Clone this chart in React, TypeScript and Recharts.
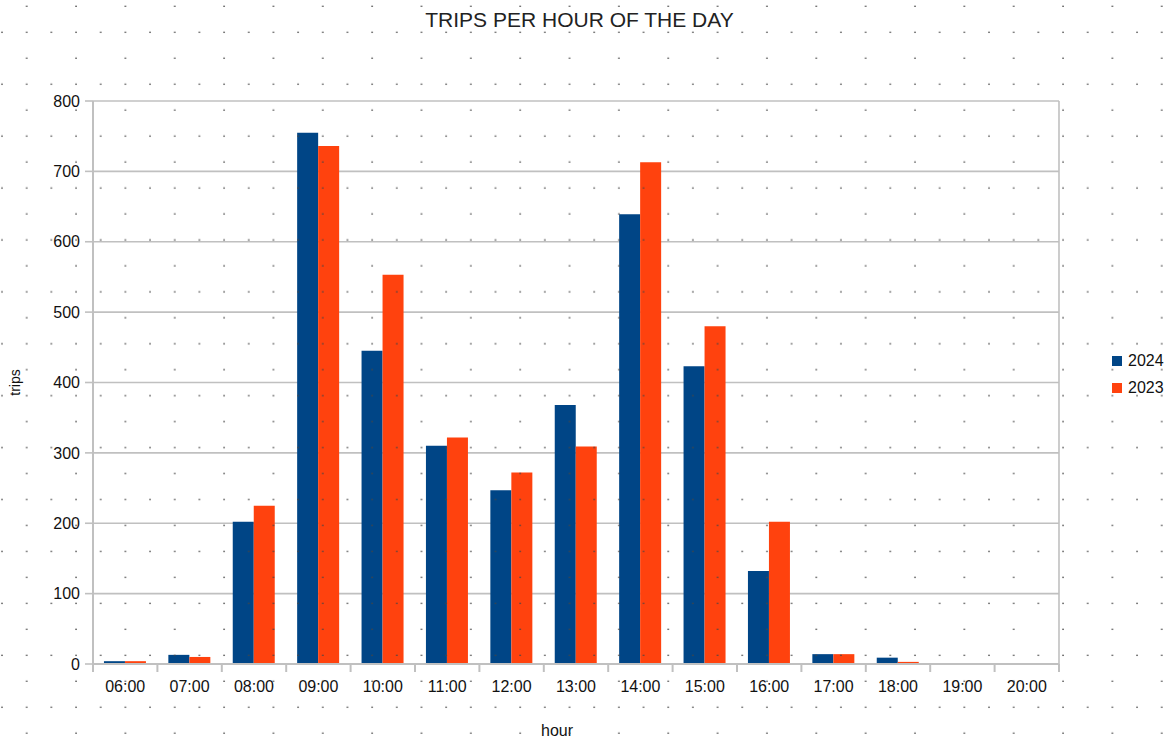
import { Bar, BarChart, CartesianGrid, Legend, XAxis, YAxis } from 'recharts';

const hours = ['06:00', '07:00', '08:00', '09:00', '10:00', '11:00', '12:00', '13:00', '14:00', '15:00', '16:00', '17:00', '18:00', '19:00', '20:00'];
const trips2024 = [4, 13, 202, 755, 445, 310, 247, 368, 639, 423, 132, 14, 9, 1, 0];
const trips2023 = [4, 10, 225, 736, 553, 322, 272, 309, 713, 480, 202, 14, 3, 1, 1];
const seriesNames = ['2024', '2023'];
const yTicks = [0, 100, 200, 300, 400, 500, 600, 700, 800];

const data = hours.map((hour, i) => ({ hour, y2024: trips2024[i], y2023: trips2023[i] }));

const W = 1175;
const H = 738;
const FONT = '"Liberation Sans", Arial, sans-serif';
const GRID = '#c0c0c0';
const PLOT_LEFT = 93;
const PLOT_RIGHT = 1059;
const BAND = (PLOT_RIGHT - PLOT_LEFT) / hours.length;

function HourTick({ x, y, payload, index }: any) {
  const left = x - BAND / 2;
  return (
    <g>
      <line x1={left} x2={left} y1={y - 17} y2={y - 9} stroke={GRID} strokeWidth={2} />
      {index === hours.length - 1 && (
        <line x1={left + BAND} x2={left + BAND} y1={y - 17} y2={y - 9} stroke={GRID} strokeWidth={2} />
      )}
      <text x={x} y={y} dy="0.71em" textAnchor="middle" fontSize={16} fontFamily={FONT} fill="#111">
        {payload.value}
      </text>
    </g>
  );
}

// keep legend in series order (recharts sorts it by value otherwise)
function LegendBox({ payload }: any) {
  const items = [...(payload || [])].sort((a: any, b: any) => seriesNames.indexOf(a.value) - seriesNames.indexOf(b.value));
  return (
    <div style={{ fontFamily: FONT, fontSize: 16, color: '#111' }}>
      {items.map((item: any) => (
        <div key={item.value} style={{ display: 'flex', alignItems: 'center', height: 27 }}>
          <span style={{ width: 10, height: 10, background: item.color, marginRight: 6, display: 'inline-block' }} />
          {item.value}
        </div>
      ))}
    </div>
  );
}

function DotOverlay() {
  return (
    <svg width={W} height={H} style={{ position: 'absolute', left: 0, top: 0, pointerEvents: 'none' }}>
      <defs>
        <pattern id="dots" width={49.35} height={51.92} patternUnits="userSpaceOnUse">
          <rect x={26} y={5.6} width={1.4} height={1.4} fill="#444" />
          <rect x={1.3} y={31.6} width={1.4} height={1.4} fill="#444" />
          <rect x={26} y={31.6} width={1.4} height={1.4} fill="#444" />
        </pattern>
      </defs>
      <rect width={W} height={H} fill="url(#dots)" />
    </svg>
  );
}

export default function App() {
  return (
    <div style={{ position: 'absolute', left: 0, top: 0, width: W, height: H, background: '#fff' }}>
      <BarChart
        width={W}
        height={H}
        data={data}
        margin={{ top: 101, right: 54, bottom: 0, left: 33 }}
        barCategoryGap="17%"
        barGap={0}
      >
        <CartesianGrid
          stroke={GRID}
          strokeWidth={1.6}
          verticalCoordinatesGenerator={({ offset }: any) => [offset.left + offset.width]}
        />
        <XAxis
          dataKey="hour"
          height={74}
          tickSize={8}
          tickMargin={9}
          tickLine={false}
          axisLine={{ stroke: GRID, strokeWidth: 2 }}
          tick={<HourTick />}
          interval={0}
          label={{ value: 'hour', position: 'insideBottom', offset: 2, dx: -19, fontSize: 16, fontFamily: FONT, fill: '#111' }}
        />
        <YAxis
          width={60}
          domain={[0, 800]}
          ticks={yTicks}
          tickSize={8}
          tickMargin={5}
          tickLine={{ stroke: GRID, strokeWidth: 1.6 }}
          axisLine={{ stroke: GRID, strokeWidth: 2 }}
          tick={{ fontSize: 16, fontFamily: FONT, fill: '#111' }}
          label={{
            content: ({ viewBox }: any) => {
              const cx = viewBox.x - 18;
              const cy = viewBox.y + viewBox.height / 2;
              return (
                <text x={cx} y={cy} transform={`rotate(-90, ${cx}, ${cy})`} textAnchor="middle" dominantBaseline="central" fontSize={14} fontFamily={FONT} fill="#111">
                  trips
                </text>
              );
            },
          }}
        />
        <Legend
          layout="vertical"
          align="right"
          verticalAlign="middle"
          content={<LegendBox />}
          wrapperStyle={{ left: 1112, top: 347, width: 62 }}
        />
        <Bar dataKey="y2024" name="2024" fill="#004586" isAnimationActive={false} />
        <Bar dataKey="y2023" name="2023" fill="#ff420e" isAnimationActive={false} />
      </BarChart>
      <div style={{ position: 'absolute', left: 0, top: 8, width: 1159, textAlign: 'center', fontFamily: FONT, fontSize: 21, color: '#222' }}>
        TRIPS PER HOUR OF THE DAY
      </div>
      <DotOverlay />
    </div>
  );
}
